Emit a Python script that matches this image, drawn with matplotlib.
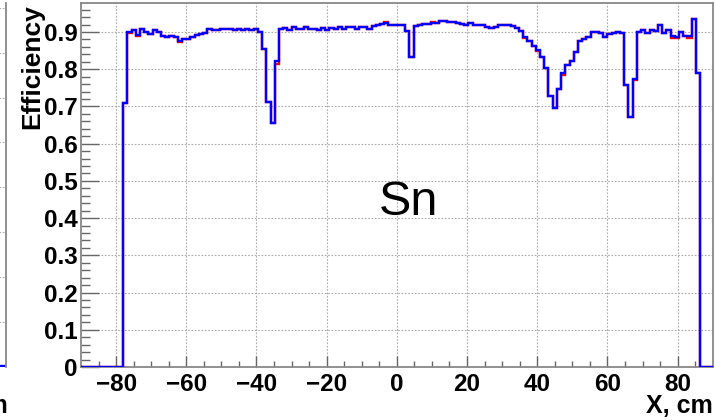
import matplotlib.pyplot as plt
import numpy as np

# binning: 150 bins of 1.2 cm from -90 to 90, filled from -78 cm up to 86.4 cm
x_min, x_max, bin_width = -90.0, 90.0, 1.2
first_filled_edge = -78.0

# blue histogram, efficiency per bin starting at -78 cm
blue_values = [
    0.710, 0.900, 0.904, 0.893, 0.908, 0.900, 0.895, 0.904, 0.899, 0.890,
    0.886, 0.888, 0.886, 0.876, 0.882, 0.882, 0.887, 0.892, 0.895, 0.897,
    0.908, 0.906, 0.906, 0.909, 0.909, 0.908, 0.905, 0.909, 0.905, 0.907,
    0.905, 0.907, 0.899, 0.854, 0.711, 0.655, 0.821, 0.907, 0.911, 0.904,
    0.912, 0.909, 0.909, 0.912, 0.909, 0.907, 0.905, 0.911, 0.904, 0.911,
    0.908, 0.912, 0.909, 0.912, 0.912, 0.907, 0.913, 0.912, 0.909, 0.917,
    0.919, 0.921, 0.923, 0.919, 0.918, 0.919, 0.918, 0.902, 0.832, 0.916,
    0.920, 0.921, 0.922, 0.925, 0.925, 0.929, 0.930, 0.927, 0.928, 0.923,
    0.921, 0.919, 0.925, 0.920, 0.919, 0.918, 0.914, 0.910, 0.914, 0.920,
    0.919, 0.918, 0.915, 0.910, 0.902, 0.887, 0.875, 0.863, 0.852, 0.832,
    0.803, 0.729, 0.697, 0.748, 0.790, 0.810, 0.821, 0.846, 0.875, 0.881,
    0.887, 0.900, 0.901, 0.896, 0.887, 0.895, 0.897, 0.901, 0.896, 0.758,
    0.671, 0.774, 0.899, 0.904, 0.897, 0.904, 0.903, 0.919, 0.896, 0.904,
    0.890, 0.887, 0.899, 0.888, 0.890, 0.935, 0.791,
]

# red histogram: same as blue except where it peeks out (bin index from -78 cm)
red_changes = {1: 0.897, 3: 0.890, 13: 0.873, 36: 0.815, 62: 0.926, 73: 0.928,
               95: 0.884, 98: 0.849, 104: 0.785, 121: 0.770, 130: 0.884,
               131: 0.884, 134: 0.884, 136: 0.789}
red_values = list(blue_values)
for i, v in red_changes.items():
    red_values[i] = v

edges = np.arange(x_min, x_max + bin_width / 2, bin_width)
n_bins = len(edges) - 1
start = int(round((first_filled_edge - x_min) / bin_width))

def full_hist(vals):
    h = np.zeros(n_bins)
    h[start:start + len(vals)] = vals
    return h

W, H = 715, 420
fig = plt.figure(figsize=(W / 100, H / 100), dpi=100)
plt.rcParams['font.family'] = ['Liberation Sans', 'DejaVu Sans']

L, R, T, B = 81, 712.7, 3.3, 367
ax = fig.add_axes([L / W, 1 - B / H, (R - L) / W, (B - T) / H])

ax.stairs(full_hist(red_values), edges, color='#ff0000', lw=1.7, zorder=3)
ax.stairs(full_hist(blue_values), edges, color='#0000ff', lw=1.7, zorder=4)

ax.set_xlim(x_min, x_max)
ax.set_ylim(0, 0.977)
ax.set_xticks(np.arange(-80, 81, 20))
ax.set_xticks(np.arange(-85, 90, 5), minor=True)
ax.set_yticks(np.arange(0, 0.95, 0.1))
ax.set_yticks(np.arange(0, 0.97, 0.02), minor=True)
ax.set_xticklabels(['\u221280', '\u221260', '\u221240', '\u221220', '0', '20', '40', '60', '80'])
ax.set_yticklabels(['0', '0.1', '0.2', '0.3', '0.4', '0.5', '0.6', '0.7', '0.8', '0.9'])
ax.grid(True, which='major', ls=(0, (1.5, 1.5)), color='#aaaaaa', lw=0.8)
ax.tick_params(axis='x', which='major', direction='in', length=8, width=1, color='#666666',
               labelsize=17.5, pad=4)
ax.tick_params(axis='x', which='minor', direction='in', length=4, width=1, color='#666666')
ax.tick_params(axis='y', which='major', direction='in', length=13, width=1, color='#666666',
               labelsize=17.5, pad=2.5)
ax.tick_params(axis='y', which='minor', direction='in', length=6.5, width=1, color='#666666')
for lab in ax.get_xticklabels() + ax.get_yticklabels():
    lab.set_fontweight('bold')
for s in ax.spines.values():
    s.set_color('#888888')
    s.set_linewidth(1.3)

ax.text(0.518, 0.451, 'Sn', transform=ax.transAxes, ha='center', va='center', fontsize=35)

fig.text(713 / W, 1 - 406 / H, 'X, cm', ha='right', va='center', fontsize=18, fontweight='bold')
fig.text(32 / W, 1 - 4 / H, 'Efficiency', rotation=90, ha='center', va='top',
         fontsize=19, fontweight='bold')

# edge of the neighbouring panel on the left
ax0 = fig.add_axes([-0.05, 1 - B / H, 0.05 + 6 / W, (B - T) / H])
ax0.set_xlim(0, 1)
ax0.set_ylim(0, 0.81)
ax0.hlines(0.002, 0, 1, color='#0000ff', lw=1.7)
ax0.set_yticks(np.arange(0.1, 0.81, 0.1))
ax0.set_xticks([])
ax0.grid(True, axis='y', ls=(0, (1.5, 1.5)), color='#aaaaaa', lw=0.8)
ax0.tick_params(axis='y', length=0, labelleft=False)
for name, s in ax0.spines.items():
    s.set_visible(name == 'right')
    s.set_color('#888888')
    s.set_linewidth(1.3)
fig.text(8 / W, 1 - 406 / H, 'X, cm', ha='right', va='center', fontsize=18, fontweight='bold')

fig.savefig('out.png', dpi=100)
